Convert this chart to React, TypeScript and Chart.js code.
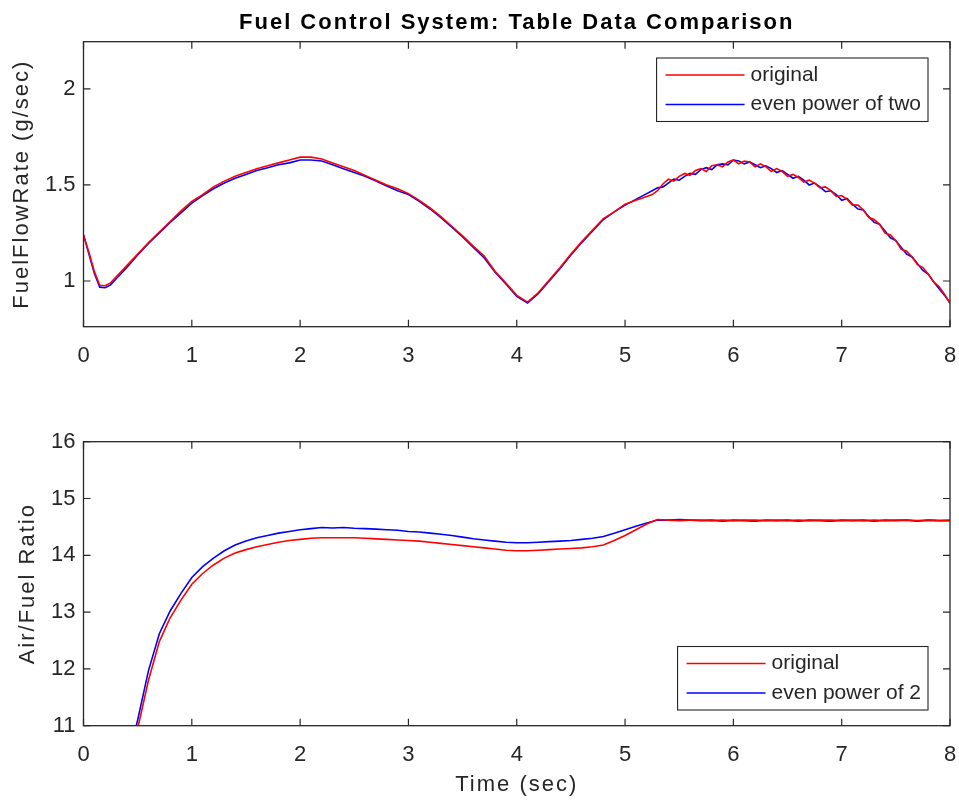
import React, { useEffect, useRef } from 'react';
import { Chart, registerables } from 'chart.js';

Chart.register(...registerables);

const FONT = '"Liberation Sans", Arial, Helvetica, sans-serif';

const TITLE = 'Fuel Control System: Table Data Comparison';
const TOP_Y_LABEL = 'FuelFlowRate (g/sec)';
const BOTTOM_Y_LABEL = 'Air/Fuel Ratio';
const X_LABEL = 'Time (sec)';
const TOP_LEGEND = ['original', 'even power of two'];
const BOTTOM_LEGEND = ['original', 'even power of 2'];

const X_TICKS = [0, 1, 2, 3, 4, 5, 6, 7, 8];
const FUEL_TICKS = [1, 1.5, 2];
const AFR_TICKS = [11, 12, 13, 14, 15, 16];

// time samples for the fuel-flow plot (finer where the table ripple shows)
const TIME_FUEL = [
  0.0, 0.05, 0.1, 0.15, 0.2, 0.25, 0.3, 0.4, 0.5, 0.6, 0.7, 0.8, 0.9,
  1.0, 1.1, 1.2, 1.3, 1.4, 1.5, 1.6, 1.7, 1.8, 1.9,
  2.0, 2.1, 2.2, 2.3, 2.4, 2.5, 2.6, 2.7, 2.8, 2.9,
  3.0, 3.1, 3.2, 3.3, 3.4, 3.5, 3.6, 3.7, 3.8, 3.9,
  4.0, 4.1, 4.2, 4.3, 4.4, 4.5, 4.6, 4.7, 4.8, 4.9,
  5.0, 5.1,
  5.2, 5.25, 5.3, 5.35, 5.4, 5.45, 5.5, 5.55, 5.6, 5.65, 5.7, 5.75, 5.8, 5.85, 5.9, 5.95,
  6.0, 6.05, 6.1, 6.15, 6.2, 6.25, 6.3, 6.35, 6.4, 6.45, 6.5, 6.55, 6.6, 6.65, 6.7, 6.75, 6.8, 6.85, 6.9, 6.95,
  7.0, 7.05, 7.1, 7.15, 7.2, 7.25, 7.3, 7.35, 7.4, 7.45, 7.5, 7.55, 7.6, 7.65, 7.7, 7.75, 7.8, 7.85, 7.9, 7.95,
  8.0,
];

const FUEL_ORIGINAL = [
  1.24, 1.15, 1.05, 0.978, 0.975, 0.99, 1.02, 1.08, 1.14, 1.2, 1.255, 1.31, 1.365,
  1.415, 1.45, 1.49, 1.52, 1.545, 1.565, 1.585, 1.6, 1.615, 1.63,
  1.645, 1.645, 1.635, 1.615, 1.595, 1.575, 1.55, 1.525, 1.5, 1.48,
  1.455, 1.42, 1.38, 1.335, 1.285, 1.235, 1.18, 1.13, 1.05, 0.99,
  0.925, 0.89, 0.94, 1.005, 1.07, 1.14, 1.205, 1.265, 1.325, 1.36,
  1.4, 1.42,
  1.44, 1.45, 1.47, 1.505, 1.53, 1.52, 1.545, 1.56, 1.55, 1.575, 1.585, 1.57, 1.6, 1.605, 1.595, 1.62,
  1.63, 1.61, 1.625, 1.62, 1.595, 1.61, 1.595, 1.57, 1.585, 1.57, 1.545, 1.555, 1.54, 1.515, 1.525, 1.51, 1.485, 1.49, 1.47, 1.44,
  1.445, 1.425, 1.395, 1.395, 1.37, 1.33, 1.32, 1.295, 1.25, 1.24, 1.21, 1.165, 1.155, 1.125, 1.085, 1.07, 1.035, 0.995, 0.97, 0.93,
  0.885,
];

const FUEL_POW2 = [
  1.24, 1.14, 1.04, 0.968, 0.965, 0.98, 1.01, 1.07, 1.135, 1.195, 1.25, 1.305, 1.355,
  1.405, 1.445, 1.48, 1.51, 1.535, 1.555, 1.575, 1.59, 1.605, 1.615,
  1.63, 1.63, 1.625, 1.605, 1.585, 1.565, 1.545, 1.52, 1.495, 1.47,
  1.45, 1.415, 1.375, 1.33, 1.28, 1.23, 1.175, 1.12, 1.045, 0.985,
  0.92, 0.885, 0.935, 1.0, 1.065, 1.135, 1.2, 1.26, 1.32, 1.36,
  1.395, 1.425,
  1.455, 1.47, 1.485, 1.49, 1.51, 1.53, 1.525, 1.545, 1.56, 1.555, 1.58, 1.59, 1.58, 1.605, 1.61, 1.605,
  1.63, 1.625, 1.61, 1.62, 1.605, 1.59, 1.6, 1.585, 1.565, 1.575, 1.555, 1.535, 1.545, 1.525, 1.5, 1.51, 1.49, 1.465, 1.47, 1.45,
  1.42, 1.43, 1.4, 1.375, 1.37, 1.335, 1.305, 1.295, 1.26, 1.225, 1.21, 1.175, 1.14, 1.125, 1.09, 1.055, 1.035, 0.995, 0.96, 0.925,
  0.885,
];

const TIME_AFR = [
  0.0, 0.1, 0.2, 0.3, 0.4, 0.5, 0.6, 0.7, 0.8, 0.9,
  1.0, 1.1, 1.2, 1.3, 1.4, 1.5, 1.6, 1.7, 1.8, 1.9,
  2.0, 2.1, 2.2, 2.3, 2.4, 2.5, 2.6, 2.7, 2.8, 2.9,
  3.0, 3.1, 3.2, 3.3, 3.4, 3.5, 3.6, 3.7, 3.8, 3.9,
  4.0, 4.1, 4.2, 4.3, 4.4, 4.5, 4.6, 4.7, 4.8, 4.9,
  5.0, 5.1, 5.2, 5.3, 5.4, 5.5, 5.6, 5.7, 5.8, 5.9,
  6.0, 6.1, 6.2, 6.3, 6.4, 6.5, 6.6, 6.7, 6.8, 6.9,
  7.0, 7.1, 7.2, 7.3, 7.4, 7.5, 7.6, 7.7, 7.8, 7.9,
  8.0,
];

const AFR_ORIGINAL = [
  7.6, 8.1, 8.7, 9.4, 10.2, 10.95, 11.8, 12.48, 12.9, 13.21,
  13.49, 13.68, 13.83, 13.95, 14.04, 14.1, 14.15, 14.19, 14.23, 14.26,
  14.28, 14.3, 14.31, 14.31, 14.31, 14.31, 14.3, 14.29, 14.28, 14.27,
  14.26, 14.25, 14.23, 14.21, 14.19, 14.17, 14.15, 14.13, 14.11, 14.09,
  14.08, 14.08, 14.09, 14.1, 14.11, 14.12, 14.13, 14.15, 14.18, 14.26,
  14.35, 14.45, 14.55, 14.63, 14.62, 14.61, 14.62, 14.62, 14.61, 14.62,
  14.61, 14.62, 14.62, 14.61, 14.62, 14.61, 14.62, 14.61, 14.62, 14.62,
  14.61, 14.62, 14.61, 14.62, 14.61, 14.62, 14.62, 14.61, 14.62, 14.61,
  14.62,
];

const AFR_POW2 = [
  7.7, 8.2, 8.8, 9.5, 10.3, 11.1, 11.97, 12.62, 13.02, 13.33,
  13.61, 13.8, 13.95, 14.08, 14.18, 14.25, 14.31, 14.35, 14.39, 14.42,
  14.45, 14.47, 14.49, 14.48, 14.49, 14.475, 14.47, 14.46, 14.45, 14.44,
  14.42, 14.41, 14.39, 14.37, 14.35, 14.32, 14.29, 14.27, 14.25, 14.23,
  14.22, 14.22, 14.23, 14.24, 14.25, 14.26, 14.28, 14.3, 14.33, 14.39,
  14.45, 14.51, 14.57, 14.62, 14.62, 14.63, 14.62, 14.61, 14.62, 14.6,
  14.62, 14.61, 14.6, 14.62, 14.61, 14.62, 14.6, 14.62, 14.61, 14.6,
  14.62, 14.61, 14.62, 14.6, 14.62, 14.61, 14.62, 14.6, 14.62, 14.61,
  14.61,
];

const RED = '#ff0000';
const BLUE = '#0000ff';
const AXIS = '#262626';

// Titles (chart + axis titles) are drawn before the datasets; tick labels are
// moved after them (ticks.z = 1). This lets the titles get MATLAB-like spacing.
const titleSpacing = {
  id: 'titleSpacing',
  beforeDraw(chart: any) {
    (chart.ctx as any).letterSpacing = '2px';
  },
  beforeDatasetsDraw(chart: any) {
    (chart.ctx as any).letterSpacing = '0px';
  },
};

const matlabFrame = {
  id: 'matlabFrame',
  afterDraw(chart: any, _args: any, opts: any) {
    const { ctx, chartArea: a, scales } = chart;
    const xs = scales.x;
    const ys = scales.y;
    ctx.save();
    (ctx as any).letterSpacing = '0px';
    const L = 7;
    ctx.strokeStyle = AXIS;
    ctx.lineWidth = 1.2;
    ctx.beginPath();
    xs.ticks.forEach((t: any) => {
      const px = xs.getPixelForValue(t.value);
      ctx.moveTo(px, a.bottom);
      ctx.lineTo(px, a.bottom - L);
      ctx.moveTo(px, a.top);
      ctx.lineTo(px, a.top + L);
    });
    ys.ticks.forEach((t: any) => {
      const py = ys.getPixelForValue(t.value);
      ctx.moveTo(a.left, py);
      ctx.lineTo(a.left + L, py);
      ctx.moveTo(a.right, py);
      ctx.lineTo(a.right - L, py);
    });
    ctx.stroke();
    ctx.lineWidth = 1.3;
    ctx.strokeRect(a.left, a.top, a.right - a.left, a.bottom - a.top);

    const labels: string[] = opts.labels || [];
    const colors: string[] = opts.colors || [];
    ctx.font = '21px ' + FONT;
    let tw = 0;
    labels.forEach((l) => {
      tw = Math.max(tw, ctx.measureText(l).width);
    });
    const padL = 9;
    const lineLen = 79;
    const gap = 6;
    const padR = 7;
    const h = 63.5;
    const w = padL + lineLen + gap + tw + padR;
    const right = a.right - opts.offsetRight;
    const left = right - w;
    const top = opts.corner === 'top' ? a.top + opts.offsetV : a.bottom - opts.offsetV - h;
    ctx.fillStyle = '#ffffff';
    ctx.fillRect(left, top, w, h);
    ctx.strokeStyle = AXIS;
    ctx.lineWidth = 1.1;
    ctx.strokeRect(left, top, w, h);
    const rows = [17, 46.5];
    labels.forEach((l, i) => {
      const ry = top + rows[i];
      ctx.strokeStyle = colors[i];
      ctx.lineWidth = 1.6;
      ctx.beginPath();
      ctx.moveTo(left + padL, ry);
      ctx.lineTo(left + padL + lineLen, ry);
      ctx.stroke();
      ctx.fillStyle = AXIS;
      ctx.textBaseline = 'middle';
      ctx.textAlign = 'left';
      ctx.fillText(l, left + padL + lineLen + gap, ry);
    });
    ctx.restore();
  },
};

function makeConfig(kind: 'top' | 'bottom'): any {
  const isTop = kind === 'top';
  const time = isTop ? TIME_FUEL : TIME_AFR;
  const red = isTop ? FUEL_ORIGINAL : AFR_ORIGINAL;
  const blue = isTop ? FUEL_POW2 : AFR_POW2;
  const yTicks = isTop ? FUEL_TICKS : AFR_TICKS;
  const legendLabels = isTop ? TOP_LEGEND : BOTTOM_LEGEND;
  const line = (color: string, label: string, vals: number[]) => ({
    label,
    data: time.map((t, i) => ({ x: t, y: vals[i] })),
    borderColor: color,
    backgroundColor: color,
    borderWidth: 1.6,
    pointRadius: 0,
    tension: 0,
    fill: false,
    clip: 0,
  });
  return {
    type: 'line',
    data: {
      datasets: [line(RED, legendLabels[0], red), line(BLUE, legendLabels[1], blue)],
    },
    options: {
      animation: false,
      responsive: false,
      events: [],
      layout: { padding: { left: 0, right: 9, top: isTop ? 0 : 41.7, bottom: 0 } },
      plugins: {
        legend: { display: false },
        tooltip: { enabled: false },
        title: {
          display: isTop,
          text: TITLE,
          fullSize: false,
          color: '#000000',
          font: { family: FONT, size: 22, weight: 'bold', lineHeight: 1.2 },
          padding: { top: 9.3, bottom: 6 },
        },
        matlabFrame: {
          labels: legendLabels,
          colors: [RED, BLUE],
          corner: isTop ? 'top' : 'bottom',
          offsetRight: 22,
          offsetV: isTop ? 16.3 : 15.7,
        },
      },
      scales: {
        x: {
          type: 'linear',
          min: 0,
          max: 8,
          afterBuildTicks: (s: any) => {
            s.ticks = X_TICKS.map((v) => ({ value: v }));
          },
          afterFit: (s: any) => {
            s.height = isTop ? 73.3 : 75.3;
            s.paddingLeft = 0;
            s.paddingRight = 0;
          },
          grid: { display: false, drawTicks: false },
          border: { display: false },
          ticks: {
            z: 1,
            padding: 16,
            color: AXIS,
            font: { family: FONT, size: 22 },
            maxRotation: 0,
            autoSkip: false,
            callback: (v: any) => String(v),
          },
          title: {
            display: !isTop,
            text: X_LABEL,
            color: AXIS,
            font: { family: FONT, size: 22, lineHeight: 1.2 },
            padding: { top: 0, bottom: 2.8 },
          },
        },
        y: {
          type: 'linear',
          min: isTop ? 0.762 : 11,
          max: isTop ? 2.246 : 16,
          afterBuildTicks: (s: any) => {
            s.ticks = yTicks.map((v) => ({ value: v }));
          },
          afterFit: (s: any) => {
            s.width = 83.5;
            s.paddingTop = 0;
            s.paddingBottom = 0;
          },
          grid: { display: false, drawTicks: false },
          border: { display: false },
          ticks: {
            z: 1,
            padding: 8,
            color: AXIS,
            font: { family: FONT, size: 22 },
            autoSkip: false,
            callback: (v: any) => String(v),
          },
          title: {
            display: true,
            text: isTop ? TOP_Y_LABEL : BOTTOM_Y_LABEL,
            color: AXIS,
            font: { family: FONT, size: 22, lineHeight: 1.2 },
            padding: { top: isTop ? 8.5 : 14.8, bottom: 0 },
          },
        },
      },
    },
    plugins: [titleSpacing, matlabFrame],
  };
}

export default function App() {
  const topRef = useRef<HTMLCanvasElement | null>(null);
  const bottomRef = useRef<HTMLCanvasElement | null>(null);

  useEffect(() => {
    const charts: Chart[] = [];
    if (topRef.current) charts.push(new Chart(topRef.current, makeConfig('top')));
    if (bottomRef.current) charts.push(new Chart(bottomRef.current, makeConfig('bottom')));
    return () => {
      charts.forEach((c) => c.destroy());
    };
  }, []);

  return (
    <div
      style={{
        position: 'absolute',
        left: 0,
        top: 0,
        width: 959,
        height: 801,
        background: '#ffffff',
        overflow: 'hidden',
      }}
    >
      <canvas
        ref={topRef}
        width={959}
        height={400}
        style={{ position: 'absolute', left: 0, top: 0, width: 959, height: 400, display: 'block' }}
      />
      <canvas
        ref={bottomRef}
        width={959}
        height={401}
        style={{ position: 'absolute', left: 0, top: 400, width: 959, height: 401, display: 'block' }}
      />
    </div>
  );
}
